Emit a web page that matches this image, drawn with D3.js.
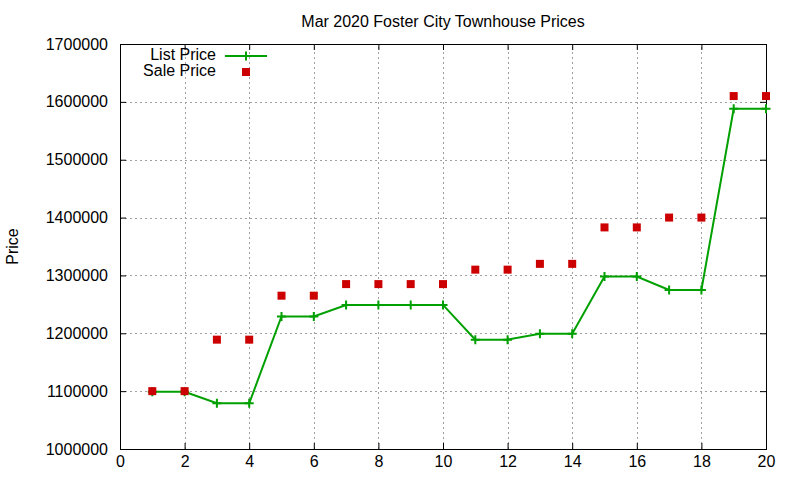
<!DOCTYPE html>
<html>
<head>
<meta charset="utf-8">
<script src="https://cdn.jsdelivr.net/npm/d3@7"></script>
<style>
  body { margin: 0; background: #fff; }
  svg text { font-family: "Liberation Sans", Arial, sans-serif; fill: #000; }
</style>
</head>
<body>
<div id="chart"></div>
<script>
const width = 800, height = 480;
const margin = { top: 44, right: 34, bottom: 31, left: 120 };

const house = d3.range(1, 21);
const listPrice = [1099000, 1099000, 1079000, 1079000, 1229000, 1229000, 1249000, 1249000, 1249000, 1249000,
                   1189000, 1189000, 1199000, 1199000, 1298000, 1298000, 1275000, 1275000, 1588000, 1588000];
const salePrice = [1100000, 1100000, 1189000, 1189000, 1265000, 1265000, 1285000, 1285000, 1285000, 1285000,
                   1310000, 1310000, 1320000, 1320000, 1383000, 1383000, 1400000, 1400000, 1610000, 1610000];
const xTicks = d3.range(0, 21, 2);
const yTicks = d3.range(1000000, 1700001, 100000);

const svg = d3.select("#chart").append("svg")
    .attr("width", width)
    .attr("height", height);

const x = d3.scaleLinear().domain([0, 20]).range([margin.left, width - margin.right]);
const y = d3.scaleLinear().domain([1000000, 1700000]).range([height - margin.bottom, margin.top]);

// grid
const grid = svg.append("g")
    .attr("stroke", "#a0a0a0")
    .attr("stroke-width", 1)
    .attr("stroke-dasharray", "2,3");
grid.selectAll(".gx")
    .data(xTicks.slice(1, -1))
    .join("line")
    .attr("x1", d => Math.round(x(d)) + 0.5).attr("x2", d => Math.round(x(d)) + 0.5)
    .attr("y1", y.range()[0]).attr("y2", y.range()[1]);
grid.selectAll(".gy")
    .data(yTicks.slice(1, -1))
    .join("line")
    .attr("y1", d => Math.round(y(d)) + 0.5).attr("y2", d => Math.round(y(d)) + 0.5)
    .attr("x1", x.range()[0]).attr("x2", x.range()[1]);

// axes (gnuplot style: inward ticks, mirrored)
const tk = 6;
const axB = svg.append("g").attr("transform", `translate(0,${y.range()[0]})`)
    .call(d3.axisBottom(x).tickValues(xTicks).tickSizeInner(-tk).tickSizeOuter(0).tickPadding(7));
const axT = svg.append("g").attr("transform", `translate(0,${y.range()[1]})`)
    .call(d3.axisTop(x).tickValues(xTicks).tickSizeInner(-tk).tickSizeOuter(0).tickFormat(""));
const axL = svg.append("g").attr("transform", `translate(${x.range()[0]},0)`)
    .call(d3.axisLeft(y).tickValues(yTicks).tickSizeInner(-tk).tickSizeOuter(0).tickPadding(12).tickFormat(d3.format("d")));
const axR = svg.append("g").attr("transform", `translate(${x.range()[1]},0)`)
    .call(d3.axisRight(y).tickValues(yTicks).tickSizeInner(-tk).tickSizeOuter(0).tickFormat(""));
[axB, axT, axL, axR].forEach(a => {
  a.select(".domain").remove();
  a.selectAll("line").attr("stroke", "#000");
  a.selectAll("text").attr("font-size", 16).attr("font-family", "Liberation Sans, Arial, sans-serif");
});

// frame
svg.append("rect")
    .attr("x", x.range()[0] + 0.5).attr("y", y.range()[1] + 0.5)
    .attr("width", x.range()[1] - x.range()[0])
    .attr("height", y.range()[0] - y.range()[1])
    .attr("fill", "none").attr("stroke", "#000");

// title and y label
svg.append("text")
    .attr("x", (x.range()[0] + x.range()[1]) / 2).attr("y", 27)
    .attr("text-anchor", "middle").attr("font-size", 16)
    .text("Mar 2020 Foster City Townhouse Prices");
svg.append("text")
    .attr("transform", `translate(18,${(y.range()[0] + y.range()[1]) / 2}) rotate(-90)`)
    .attr("text-anchor", "middle").attr("font-size", 16)
    .text("Price");

const green = "#00a000", red = "#cc0000";
const plus = (g, cx, cy, r) => g.append("path")
    .attr("d", `M${cx - r},${cy}H${cx + r}M${cx},${cy - r}V${cy + r}`)
    .attr("stroke", green).attr("stroke-width", 2).attr("fill", "none");

// list price line
const line = d3.line().x((d, i) => x(house[i])).y(d => y(d));
svg.append("path")
    .datum(listPrice)
    .attr("d", line)
    .attr("fill", "none").attr("stroke", green).attr("stroke-width", 2);
const pts = svg.append("g");
listPrice.forEach((d, i) => plus(pts, x(house[i]), y(d), 4.5));

// sale price squares
svg.append("g").selectAll("rect")
    .data(salePrice)
    .join("rect")
    .attr("x", (d, i) => x(house[i]) - 4)
    .attr("y", d => y(d) - 4)
    .attr("width", 8).attr("height", 8)
    .attr("fill", red);

// legend
const lg = svg.append("g");
lg.append("text").attr("x", 216).attr("y", 60).attr("text-anchor", "end").attr("font-size", 16).text("List Price");
lg.append("line").attr("x1", 225).attr("x2", 267).attr("y1", 56).attr("y2", 56)
    .attr("stroke", green).attr("stroke-width", 2);
plus(lg, 246, 56, 4.5);
lg.append("text").attr("x", 216).attr("y", 76).attr("text-anchor", "end").attr("font-size", 16).text("Sale Price");
lg.append("rect").attr("x", 242).attr("y", 68).attr("width", 8).attr("height", 8).attr("fill", red);
</script>
</body>
</html>
